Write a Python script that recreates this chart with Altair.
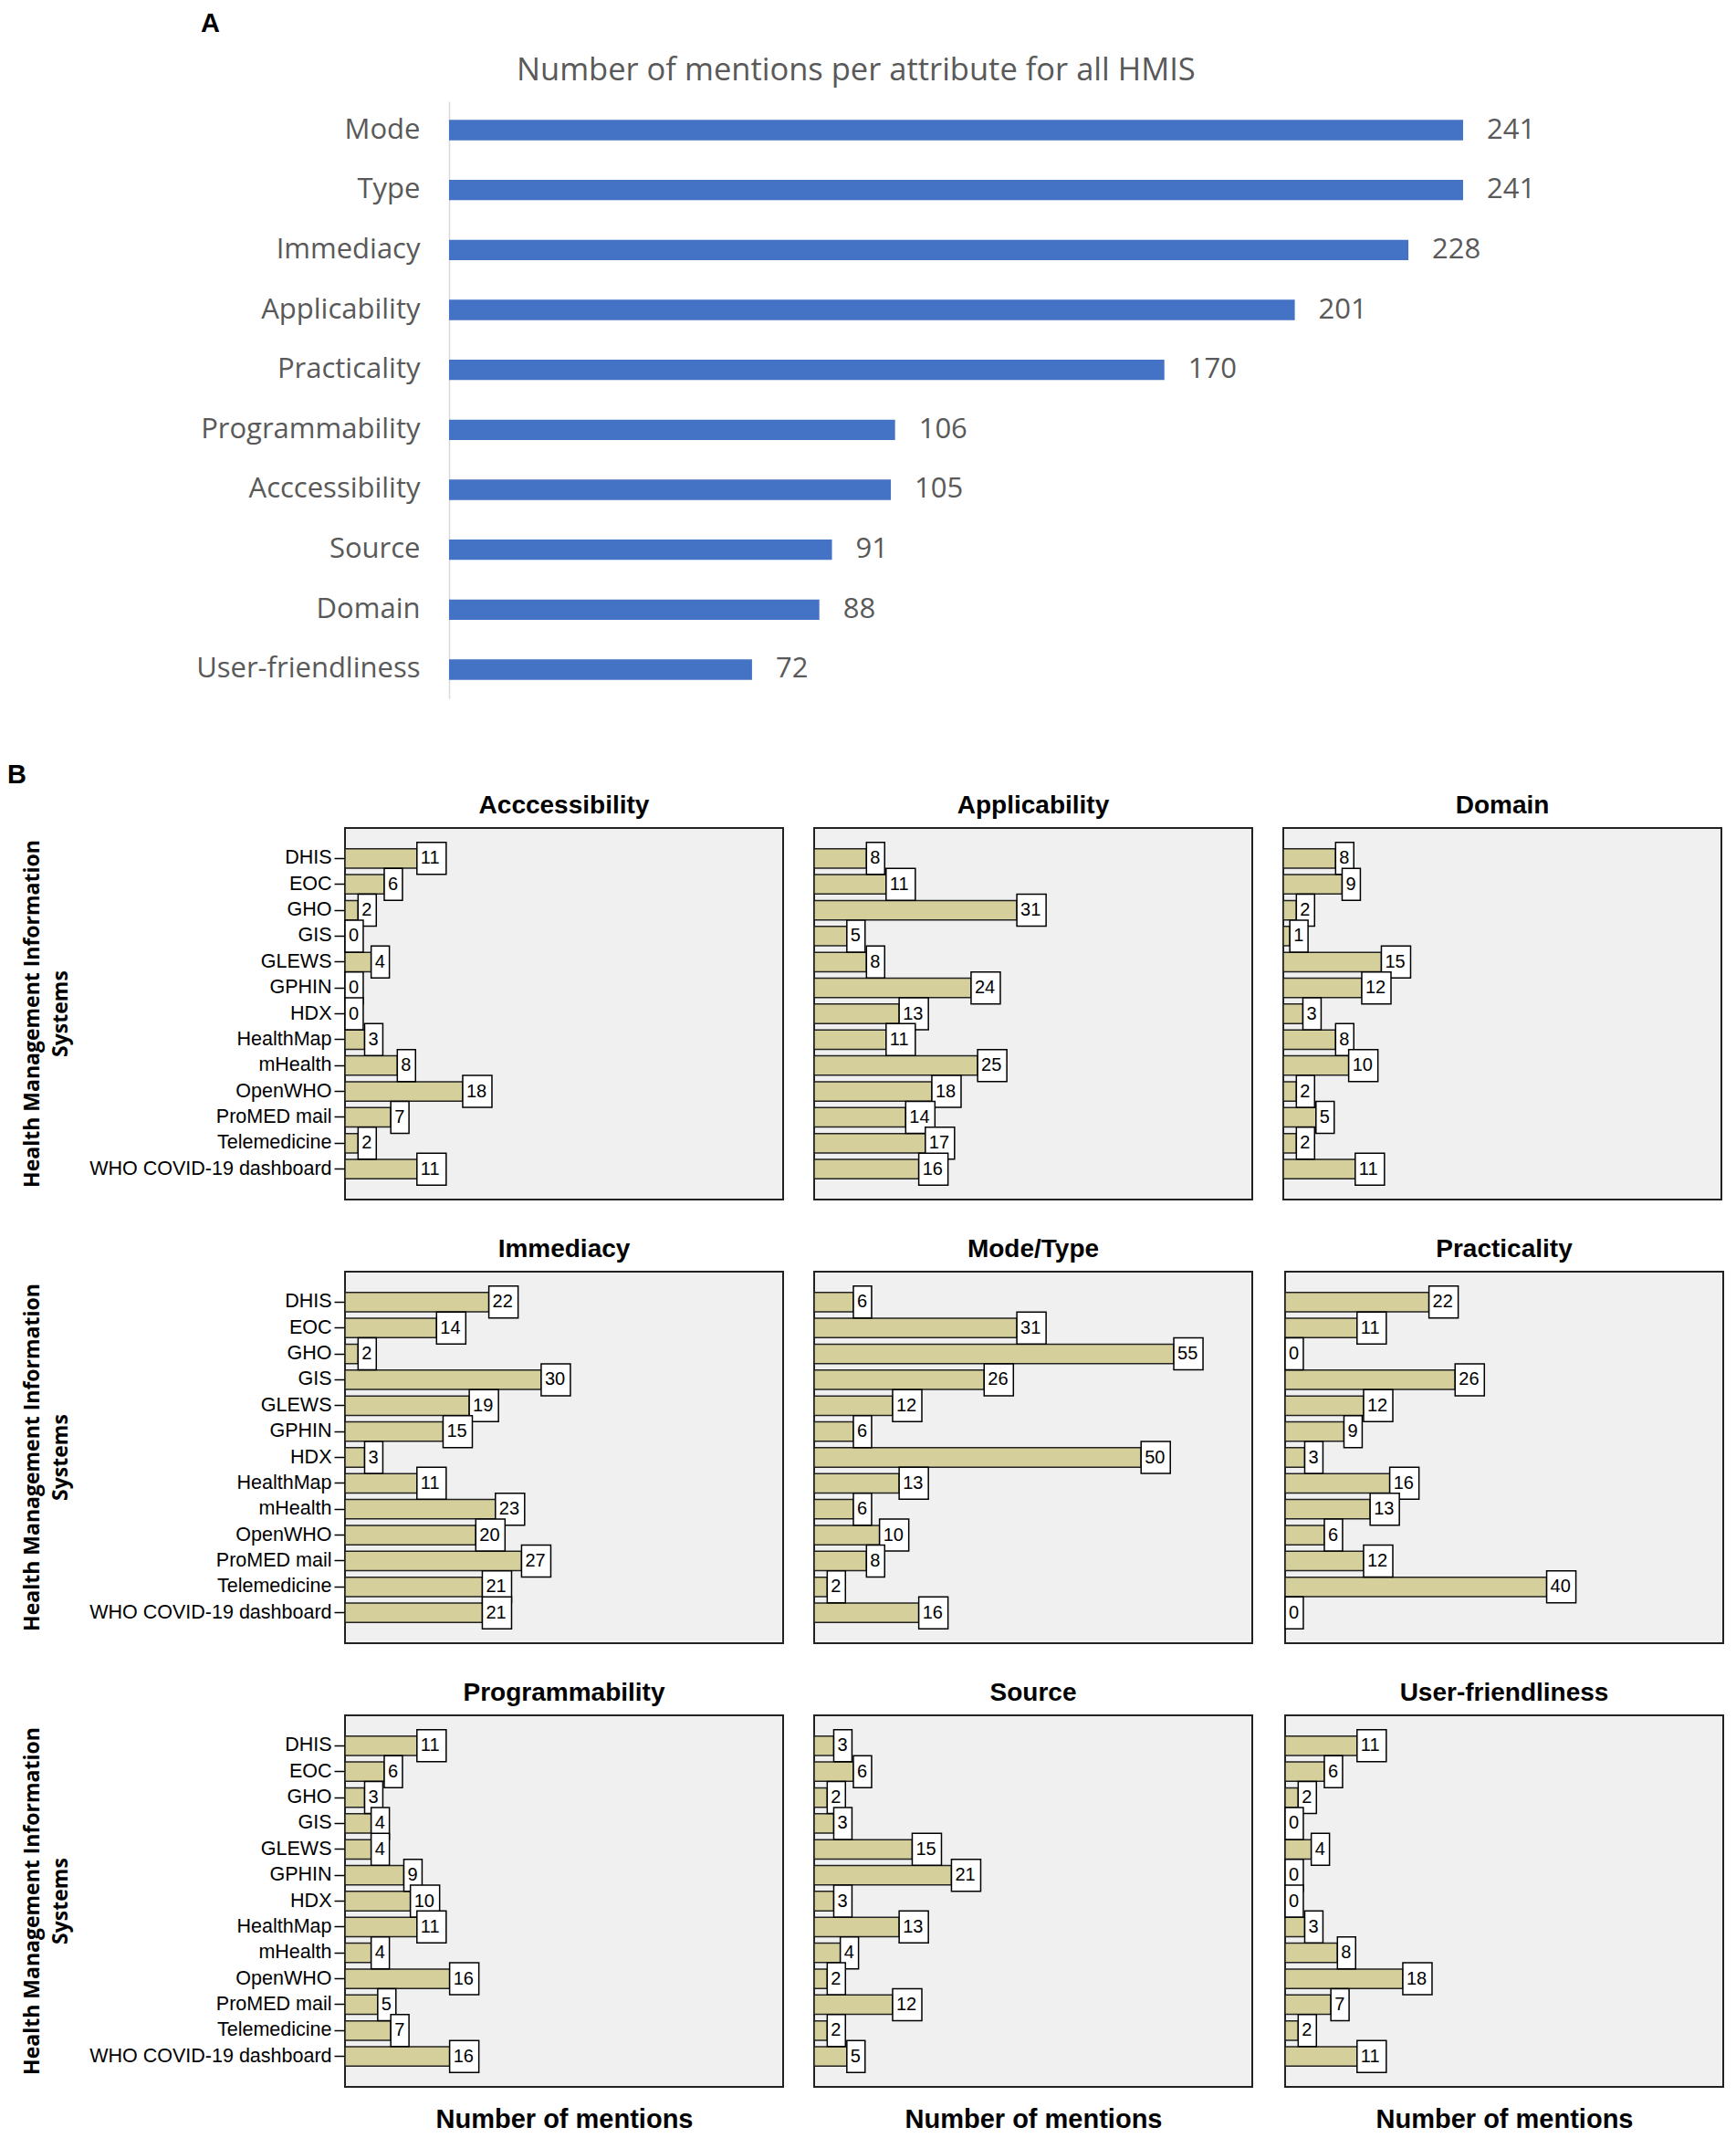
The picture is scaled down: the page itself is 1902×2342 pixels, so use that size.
import altair as alt
import pandas as pd

# ---------------- Panel A data ----------------
attributes_a = ["Mode", "Type", "Immediacy", "Applicability", "Practicality",
                "Programmability", "Acccessibility", "Source", "Domain", "User-friendliness"]
mentions_a = [241, 241, 228, 201, 170, 106, 105, 91, 88, 72]

# ---------------- Panel B data ----------------
systems = ["DHIS", "EOC", "GHO", "GIS", "GLEWS", "GPHIN", "HDX", "HealthMap",
           "mHealth", "OpenWHO", "ProMED mail", "Telemedicine", "WHO COVID-19 dashboard"]
panel_titles = ["Acccessibility", "Applicability", "Domain",
                "Immediacy", "Mode/Type", "Practicality",
                "Programmability", "Source", "User-friendliness"]
accessibility = [11, 6, 2, 0, 4, 0, 0, 3, 8, 18, 7, 2, 11]
applicability = [8, 11, 31, 5, 8, 24, 13, 11, 25, 18, 14, 17, 16]
domain = [8, 9, 2, 1, 15, 12, 3, 8, 10, 2, 5, 2, 11]
immediacy = [22, 14, 2, 30, 19, 15, 3, 11, 23, 20, 27, 21, 21]
mode_type = [6, 31, 55, 26, 12, 6, 50, 13, 6, 10, 8, 2, 16]
practicality = [22, 11, 0, 26, 12, 9, 3, 16, 13, 6, 12, 40, 0]
programmability = [11, 6, 3, 4, 4, 9, 10, 11, 4, 16, 5, 7, 16]
source = [3, 6, 2, 3, 15, 21, 3, 13, 4, 2, 12, 2, 5]
user_friendliness = [11, 6, 2, 0, 4, 0, 0, 3, 8, 18, 7, 2, 11]
panel_values = [accessibility, applicability, domain,
                immediacy, mode_type, practicality,
                programmability, source, user_friendliness]

GREY = "#595959"
BLUE = "#4472C4"
TAN = "#D5CF9B"

# ---------------- Panel A ----------------
dfA = pd.DataFrame({"attr": attributes_a, "n": mentions_a})
shiftA = 114
pxA = 4.61
x0A = -shiftA / pxA
xmaxA = 280
widthA = (xmaxA - x0A) * pxA

yA = alt.Y("attr:N", sort=attributes_a, title=None,
           scale=alt.Scale(paddingInner=0.66, paddingOuter=0.31),
           axis=alt.Axis(offset=-shiftA, domainColor="#D9D9D9", domainWidth=1.5,
                         ticks=False, labelPadding=32, labelFontSize=31,
                         labelColor=GREY, labelFont="Open Sans", labelLimit=400))
xA = alt.X("n:Q", scale=alt.Scale(domain=[x0A, xmaxA], nice=False, zero=False), axis=None)

barsA = alt.Chart(dfA).mark_bar(color=BLUE).encode(x=xA, x2=alt.datum(0), y=yA)
textA = alt.Chart(dfA).mark_text(align="left", dx=26, fontSize=31, color=GREY,
                                 font="Open Sans").encode(x=xA, y=yA, text="n:Q")
panelA = alt.layer(barsA, textA).properties(
    width=widthA, height=654,
    title=alt.Title("Number of mentions per attribute for all HMIS", anchor="start",
                    frame="group", dx=188, fontSize=34.5, font="Open Sans",
                    fontWeight="normal", color=GREY, offset=16),
    view=alt.ViewBackground(strokeWidth=0),
)

# ---------------- Panel B ----------------
PATH_ONE = "M0,-1H1.14V1H0Z"
PATH_TWO = "M0,-1H1.83V1H0Z"


def make_panel(idx):
    title = panel_titles[idx]
    vals = panel_values[idx]
    show_y = idx % 3 == 0
    show_x = idx >= 6
    df = pd.DataFrame({"sys": systems, "n": vals})
    if show_y:
        yaxis = alt.Axis(title=["Health Management Information", "Systems"],
                         titleFont="Open Sans", titleFontSize=23, titleFontWeight="bold",
                         titleColor="black", titleLineHeight=31,
                         titleAngle=270, titleAlign="center", titleBaseline="top",
                         titleX=-354, titleY=203,
                         labelFont="Liberation Sans", labelFontSize=21.5, labelColor="black",
                         labelPadding=3, tickSize=12, tickColor="black", tickWidth=1.5,
                         domain=False, labelLimit=400)
    else:
        yaxis = None
    y = alt.Y("sys:N", sort=systems,
              scale=alt.Scale(paddingInner=0.25, paddingOuter=0.8), axis=yaxis)
    if show_x:
        xaxis = alt.Axis(title="Number of mentions", titleFont="Liberation Sans",
                         titleFontSize=29, titleFontWeight="bold", titleColor="black",
                         labels=False, ticks=False, domain=False, grid=False,
                         titlePadding=21)
    else:
        xaxis = None
    x = alt.X("n:Q", scale=alt.Scale(domain=[0, 67], nice=False), axis=xaxis)

    base = alt.Chart(df).transform_calculate(
        digits="datum.n >= 10 ? 'two' : 'one'")
    bars = base.mark_bar(fill=TAN, stroke="#222222", strokeWidth=1.5).encode(
        x=x, x2=alt.datum(0), y=y)
    boxes = base.mark_point(filled=True, fill="white", stroke="black",
                            strokeWidth=1.5, opacity=1, size=1225).encode(
        x=x, y=y,
        shape=alt.Shape("digits:N", legend=None,
                        scale=alt.Scale(domain=["one", "two"],
                                        range=[PATH_ONE, PATH_TWO])))
    labels = base.mark_text(align="left", dx=4, fontSize=20, font="Liberation Sans",
                            color="black").encode(x=x, y=y, text="n:Q")
    return alt.layer(bars, boxes, labels).properties(
        width=480, height=407,
        title=alt.Title(title, fontSize=28, font="Liberation Sans",
                        fontWeight="bold", color="black", offset=10),
        view=alt.ViewBackground(fill="#F0F0F0", stroke="#222222", strokeWidth=2),
    )


rows = [alt.hconcat(*[make_panel(r * 3 + c) for c in range(3)], spacing=31)
        for r in range(3)]
panelB = alt.vconcat(*rows, spacing=39,
                     title=alt.Title("B", anchor="start", dx=-15, fontSize=29,
                                     font="Liberation Sans", fontWeight="bold",
                                     color="black", offset=4))

chart = alt.vconcat(panelA, panelB, spacing=70,
                    title=alt.Title("A", anchor="start", dx=212, offset=19,
                                    fontSize=29, font="Liberation Sans", fontWeight="bold",
                                    color="black"),
                    padding={"left": 0, "top": 3, "right": 5, "bottom": 5}
                    ).configure_view(strokeWidth=0)

chart.save("out.html", embed_options={"renderer": "svg", "actions": False})
